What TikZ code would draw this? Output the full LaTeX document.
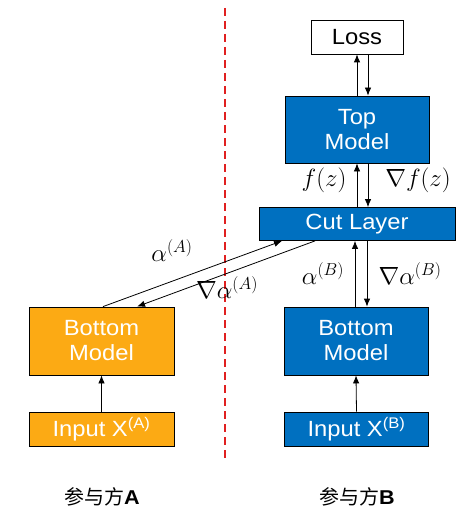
\documentclass[tikz,border=0pt]{standalone}
\usepackage{fontspec}
\setmainfont{Liberation Sans}[FakeStretch=1.08]
\newfontfamily\cjk{Noto Sans CJK SC}
\usetikzlibrary{arrows.meta}
\definecolor{orangeA}{RGB}{252,170,20}
\definecolor{blueB}{RGB}{0,112,192}
\definecolor{sepred}{RGB}{224,32,32}
\tikzset{
  box/.style={draw=black, line width=0.8pt, inner sep=0pt, align=center,
    font=\fontsize{22}{25}\selectfont, text=white},
  boxA/.style={box, fill=orangeA},
  boxB/.style={box, fill=blueB},
  arr/.style={-{Latex[length=8pt,width=6.5pt]}, line width=0.8pt},
  mlab/.style={font=\fontsize{26}{30}\selectfont, inner sep=0pt},
  party/.style={font=\fontsize{20}{22}\selectfont, inner sep=0pt}
}
\begin{document}
\begin{tikzpicture}[x=1pt,y=-1pt]
\useasboundingbox (0,0) rectangle (462,516);
% separator
\draw[sepred, line width=2pt, dash pattern=on 8pt off 5pt] (225,8) -- (225,462);
% boxes
\node[box, fill=white, text=black, minimum width=92pt, minimum height=34pt] (loss) at (357,37) {Loss};
\node[boxB, minimum width=144pt, minimum height=67pt] (top) at (357,129.5) {Top\\Model};
\node[boxB, minimum width=196pt, minimum height=33pt] (cut) at (357,224) {Cut Layer};
\node[boxB, minimum width=144pt, minimum height=68pt] (botB) at (356,341) {Bottom\\Model};
\node[boxA, minimum width=145pt, minimum height=68pt] (botA) at (101.5,341) {Bottom\\Model};
\node[boxA, minimum width=145pt, minimum height=34pt] (inA) at (101.5,429) {Input X\textsuperscript{(A)}};
\node[boxB, minimum width=144pt, minimum height=34pt] (inB) at (356.5,429) {Input X\textsuperscript{(B)}};
% vertical arrows
\draw[arr] (top.north) -- (loss.south);
\draw[arr] ([xshift=11pt]loss.south) -- ([xshift=11pt]top.north);
\draw[arr] (cut.north) -- (top.south);
\draw[arr] ([xshift=11pt]top.south) -- ([xshift=11pt]cut.north);
\draw[arr] ([xshift=-1pt]botB.north) -- ([xshift=-2pt]cut.south);
\draw[arr] ([xshift=10pt]cut.south) -- ([xshift=11pt]botB.north);
\draw[arr] (inA.north) -- (botA.south);
\draw[arr] (inB.north) -- (botB.south);
% diagonal arrows
\draw[arr] ([xshift=1.5pt]botA.north) -- ([xshift=-75pt]cut.south);
\draw[arr] ([xshift=-42pt]cut.south) -- ([xshift=35.5pt]botA.north);
% labels
\node[mlab] (lf) at (324,180) {$f(z)$};
\node[mlab] (lgf) at (418,180) {$\nabla f(z)$};
\node[mlab] (laB) at (323,274) {$\alpha^{(B)}$};
\node[mlab] (lgaB) at (410,274) {$\nabla\alpha^{(B)}$};
\node[mlab] (laA) at (172,251) {$\alpha^{(A)}$};
\node[mlab] (lgaA) at (227,288) {$\nabla\alpha^{(A)}$};
\node[party] (pA) at (102,497) {{\cjk 参与方}\textbf{A}};
\node[party] (pB) at (357,497) {{\cjk 参与方}\textbf{B}};
\end{tikzpicture}
\end{document}
